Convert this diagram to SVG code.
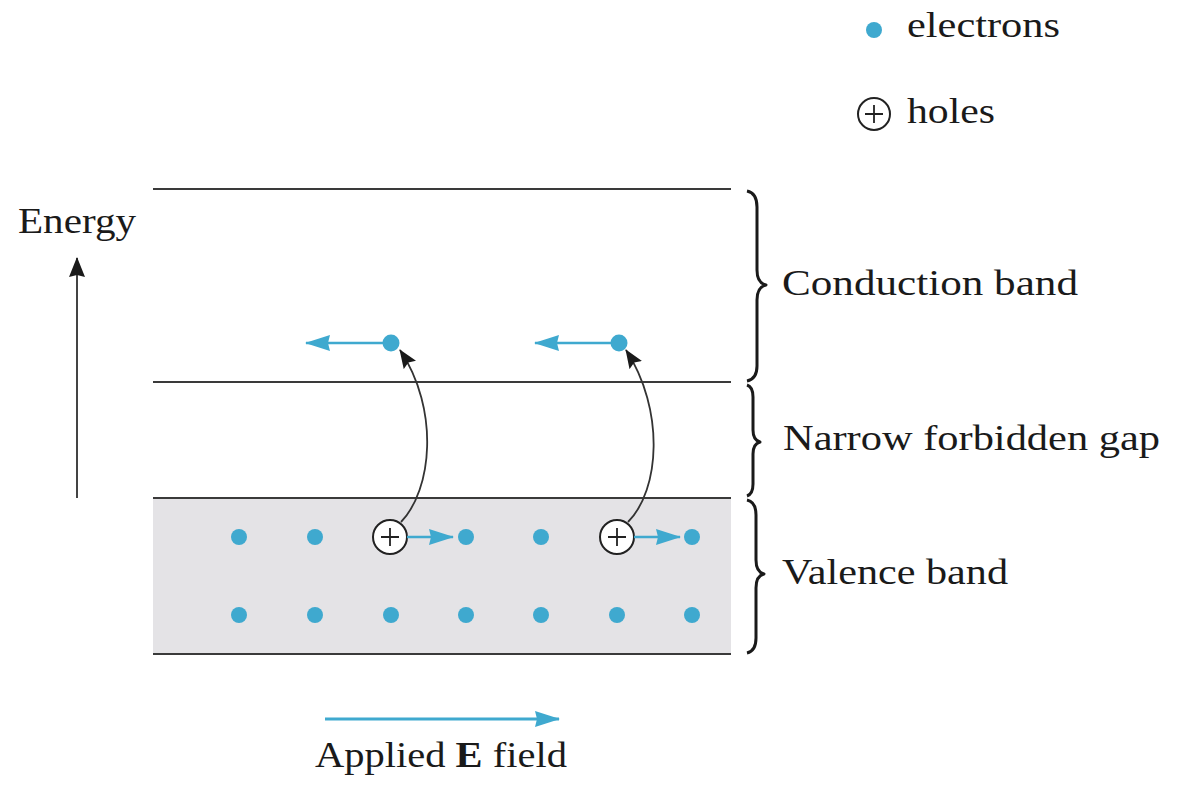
<svg xmlns="http://www.w3.org/2000/svg" width="1191" height="805" viewBox="0 0 1191 805">
<defs>
<style>
.t{font-family:"Liberation Serif","Times New Roman",serif;font-size:35px;fill:#1a1a1a}
.band{stroke:#3a3a3a;stroke-width:2;fill:none}
.e{fill:#3fa9cf}
.hole{fill:#fff;stroke:#222;stroke-width:2}
.plus{stroke:#222;stroke-width:1.8;fill:none}
.blue{stroke:#3fa9cf;stroke-width:2.5;fill:none}
.blk{stroke:#333;stroke-width:1.8;fill:none}
.brace{stroke:#1a1a1a;stroke-width:3;fill:none;stroke-linejoin:round}
</style>
<marker id="bhL" markerWidth="25" markerHeight="16" refX="24" refY="8" orient="auto" markerUnits="userSpaceOnUse" viewBox="0 0 25 16">
<path d="M0,0 L25,8 L0,16 L2,8 Z" fill="#3fa9cf"/>
</marker>
<marker id="kh" markerWidth="19" markerHeight="15" refX="18" refY="7.5" orient="auto" markerUnits="userSpaceOnUse" viewBox="0 0 19 15">
<path d="M0,0 L19,7.5 L0,15 L3,7.5 Z" fill="#1a1a1a"/>
</marker>
<marker id="ah" markerWidth="20" markerHeight="16" refX="19" refY="8" orient="auto" markerUnits="userSpaceOnUse" viewBox="0 0 20 16">
<path d="M0,0 L20,8 L0,16 L2,8 Z" fill="#1a1a1a"/>
</marker>
</defs>
<rect width="1191" height="805" fill="#fff"/>

<g id="bands">
<rect x="153" y="498" width="578" height="156" fill="#e4e3e6"/>
<line class="band" x1="153" y1="189" x2="731" y2="189"/>
<line class="band" x1="153" y1="382" x2="731" y2="382"/>
<line class="band" x1="153" y1="498" x2="731" y2="498"/>
<line class="band" x1="153" y1="654" x2="731" y2="654"/>
</g>

<g id="legend">
<circle class="e" cx="874" cy="30" r="8"/>
<text class="t" x="907" y="37" textLength="153" lengthAdjust="spacingAndGlyphs">electrons</text>
<circle class="hole" cx="874" cy="114" r="16"/>
<path class="plus" d="M865,114 H883 M874,105 V123"/>
<text class="t" x="907" y="123" textLength="88" lengthAdjust="spacingAndGlyphs">holes</text>
</g>

<g id="energy-axis">
<text class="t" x="18" y="233" textLength="118" lengthAdjust="spacingAndGlyphs">Energy</text>
<line x1="77" y1="498" x2="77" y2="258" stroke="#444" stroke-width="2" marker-end="url(#ah)"/>
</g>

<g id="electrons">
<circle class="e" cx="239" cy="537" r="8"/>
<circle class="e" cx="315" cy="537" r="8"/>
<circle class="e" cx="466" cy="537" r="8"/>
<circle class="e" cx="541" cy="537" r="8"/>
<circle class="e" cx="692" cy="537" r="8"/>
<circle class="e" cx="239" cy="615" r="8"/>
<circle class="e" cx="315" cy="615" r="8"/>
<circle class="e" cx="391" cy="615" r="8"/>
<circle class="e" cx="466" cy="615" r="8"/>
<circle class="e" cx="541" cy="615" r="8"/>
<circle class="e" cx="617" cy="615" r="8"/>
<circle class="e" cx="692" cy="615" r="8"/>
<circle class="e" cx="391" cy="343" r="8.5"/>
<circle class="e" cx="619" cy="343" r="8.5"/>
</g>

<g id="holes">
<circle class="hole" cx="390" cy="537" r="17"/>
<path class="plus" d="M381,537 H399 M390,528 V546"/>
<circle class="hole" cx="617" cy="537" r="17"/>
<path class="plus" d="M608,537 H626 M617,528 V546"/>
</g>

<g id="connectors">
<line class="blue" x1="407" y1="537" x2="453" y2="537" marker-end="url(#bhL)"/>
<line class="blue" x1="634" y1="537" x2="680" y2="537" marker-end="url(#bhL)"/>
<line class="blue" x1="384" y1="343" x2="306" y2="343" marker-end="url(#bhL)"/>
<line class="blue" x1="612" y1="343" x2="535" y2="343" marker-end="url(#bhL)"/>
<path class="blk" d="M401,522 C432,490 440,410 400,350" marker-end="url(#kh)"/>
<path class="blk" d="M628,522 C660,490 665,410 626,350" marker-end="url(#kh)"/>
<line x1="325" y1="719" x2="559" y2="719" stroke="#3fa9cf" stroke-width="3" marker-end="url(#bhL)"/>
</g>

<g id="braces">
<path class="brace" d="M747,191 Q757,193 757,207 L757,270 Q757,283 766,285 Q757,287 757,300 L757,366 Q757,379 747,381"/>
<path class="brace" d="M747,385 Q753,387 753,397 L753,430 Q753,440 760,442 Q753,444 753,454 L753,484 Q753,494 747,496"/>
<path class="brace" d="M747,500 Q756,502 756,515 L756,560 Q756,572 764,574 Q756,576 756,588 L756,638 Q756,651 747,653"/>
</g>

<g id="labels">
<text class="t" x="782" y="295" textLength="296" lengthAdjust="spacingAndGlyphs">Conduction band</text>
<text class="t" x="783" y="450" textLength="377" lengthAdjust="spacingAndGlyphs">Narrow forbidden gap</text>
<text class="t" x="782" y="584" textLength="226" lengthAdjust="spacingAndGlyphs">Valence band</text>
<text class="t" x="315" y="767" textLength="252" lengthAdjust="spacingAndGlyphs">Applied <tspan font-weight="bold">E</tspan> field</text>
</g>
</svg>
